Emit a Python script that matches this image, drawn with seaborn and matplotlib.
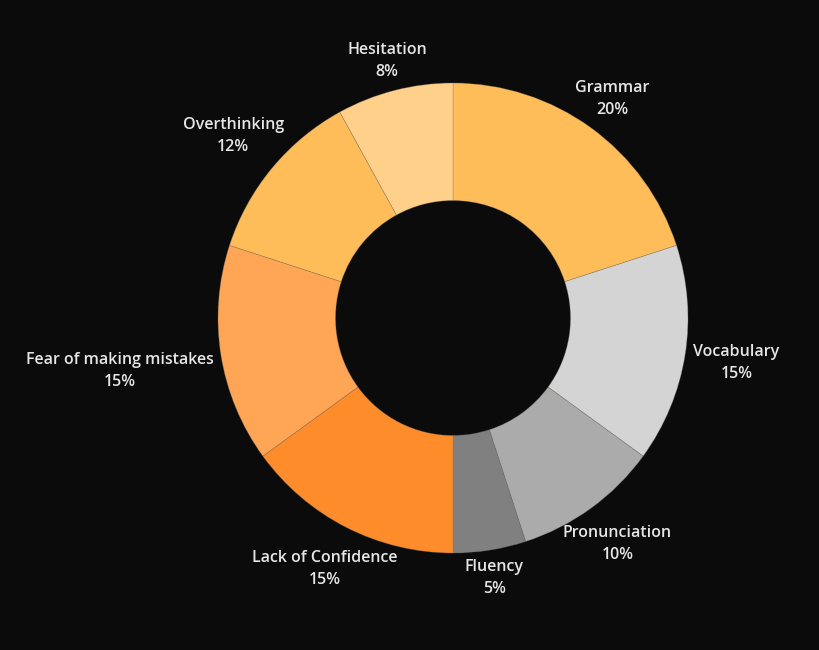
import numpy as np
import matplotlib
matplotlib.use("Agg")
import matplotlib.pyplot as plt
import seaborn as sns

# data
categories = ["Grammar", "Vocabulary", "Pronunciation", "Fluency",
              "Lack of Confidence", "Fear of making mistakes",
              "Overthinking", "Hesitation"]
shares = [20, 15, 10, 5, 15, 15, 12, 8]
colors = ["#FFBD59", "#D4D4D4", "#ABABAB", "#808080",
          "#FF8C2B", "#FFA556", "#FFBD59", "#FFD08A"]

bg = "#0B0B0B"
sns.set_theme(style="dark", rc={"figure.facecolor": bg, "axes.facecolor": bg})
plt.rcParams["font.family"] = ["Open Sans", "DejaVu Sans"]

dpi = 100
fig = plt.figure(figsize=(8.2, 6.5), dpi=dpi)
ax = fig.add_axes([0, 0, 1, 1])
ax.set_facecolor(bg)

wedges, _ = ax.pie(shares, colors=colors, startangle=90, counterclock=False,
                   radius=1.0,
                   wedgeprops=dict(width=0.5, edgecolor=(0.5, 0.45, 0.4, 0.35),
                                   linewidth=0.6))

# 1 data unit = 235 px, centre at (453, 318) from top-left
scale = 235.0
ax.set_aspect("auto")
ax.set_xlim(-453 / scale, (820 - 453) / scale)
ax.set_ylim(-(650 - 318) / scale, 318 / scale)
ax.axis("off")

# labels outside the ring, pushed out by the text box size along the ray
fig.canvas.draw()
renderer = fig.canvas.get_renderer()
base = 1.04
for w, name, val in zip(wedges, categories, shares):
    ang = np.deg2rad((w.theta1 + w.theta2) / 2)
    c, s = np.cos(ang), np.sin(ang)
    t = ax.text(0, 0, f"{name}\n{val}%", ha="center", va="center",
                multialignment="center", color="#E6E6E6", fontsize=11.5,
                fontweight="semibold", linespacing=1.5)
    bb = t.get_window_extent(renderer)
    hw = bb.width / 2 / scale
    hh = bb.height / 2 / scale
    ext = np.hypot(hw * c, hh * s)
    r = base + ext
    t.set_position((r * c, r * s))

fig.savefig("out.png", dpi=dpi, facecolor=bg)
